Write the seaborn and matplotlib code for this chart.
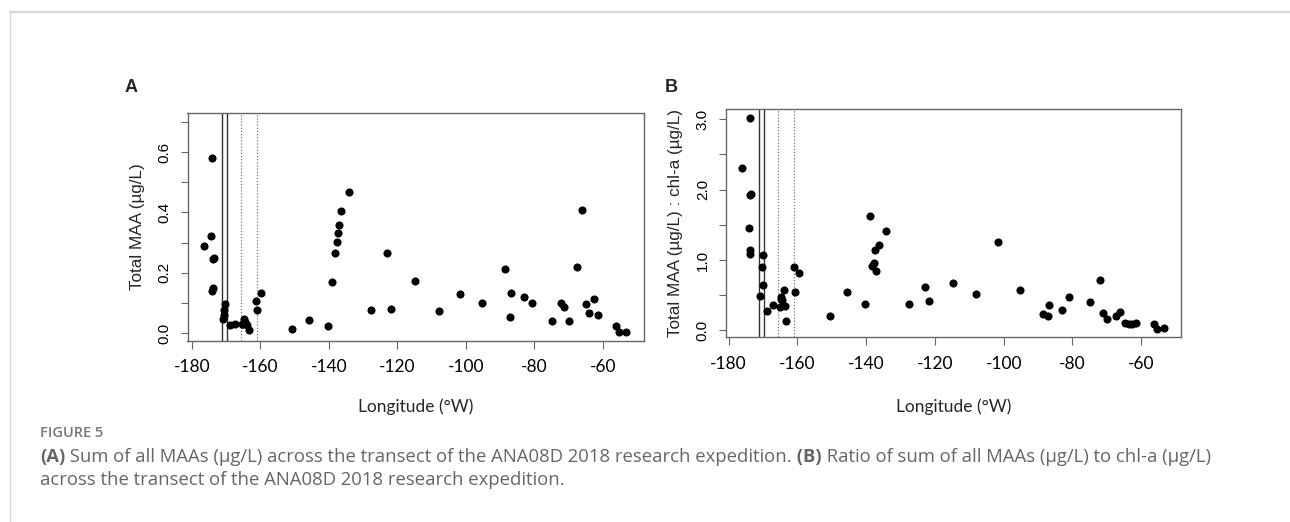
import matplotlib
matplotlib.use("Agg")
import matplotlib.pyplot as plt
from matplotlib.lines import Line2D
import seaborn as sns
import pandas as pd

# ---------------- data ----------------
lon_a = [-176.3, -174.2, -174.4, -173.9, -173.5, -173.9, -174.1, -170.4, -170.5, -170.6,
         -170.8, -168.8, -167.3, -165.3, -164.8, -164.5, -164.1, -163.8, -163.4, -165.1,
         -161.3, -161.0, -159.8, -150.7, -145.7, -140.3, -139.2, -138.2, -137.6, -137.3,
         -137.0, -136.3, -134.2, -127.8, -123.1, -121.8, -114.9, -107.9, -101.6, -95.3,
         -88.6, -87.1, -86.9, -82.9, -80.8, -74.9, -72.2, -71.3, -69.8, -67.4,
         -66.0, -64.8, -63.9, -62.6, -61.3, -56.3, -55.2, -53.3]
maa_a = [0.287, 0.580, 0.322, 0.247, 0.250, 0.148, 0.139, 0.095, 0.077, 0.061,
         0.046, 0.026, 0.031, 0.031, 0.047, 0.036, 0.031, 0.028, 0.011, 0.029,
         0.107, 0.078, 0.133, 0.015, 0.043, 0.024, 0.170, 0.267, 0.301, 0.331,
         0.358, 0.406, 0.469, 0.077, 0.266, 0.079, 0.172, 0.075, 0.130, 0.101,
         0.213, 0.055, 0.133, 0.120, 0.099, 0.040, 0.100, 0.085, 0.041, 0.218,
         0.408, 0.097, 0.068, 0.114, 0.061, 0.024, 0.003, 0.004]

lon_b = [-176.1, -173.9, -173.7, -173.4, -174.1, -173.9, -173.7, -170.1, -170.4, -170.1,
         -170.8, -168.7, -167.1, -165.1, -164.7, -164.4, -163.9, -163.6, -163.3, -164.8,
         -161.0, -160.8, -159.5, -150.6, -145.7, -140.3, -139.0, -138.3, -137.6, -137.3,
         -137.0, -136.3, -134.3, -127.6, -123.0, -121.6, -114.8, -108.0, -101.6, -95.2,
         -88.5, -87.1, -86.8, -83.1, -80.9, -74.8, -72.0, -71.1, -69.8, -67.4,
         -66.1, -64.8, -63.6, -62.8, -61.6, -56.3, -55.5, -53.5]
ratio_b = [2.31, 3.02, 1.92, 1.94, 1.45, 1.15, 1.08, 1.07, 0.90, 0.64,
           0.49, 0.27, 0.36, 0.34, 0.48, 0.43, 0.58, 0.35, 0.13, 0.44,
           0.90, 0.55, 0.81, 0.20, 0.55, 0.37, 1.62, 0.92, 0.96, 1.14,
           0.84, 1.21, 1.42, 0.37, 0.62, 0.42, 0.67, 0.52, 1.25, 0.57,
           0.24, 0.20, 0.36, 0.29, 0.47, 0.41, 0.72, 0.25, 0.16, 0.20,
           0.26, 0.11, 0.095, 0.095, 0.10, 0.095, 0.02, 0.03]

xticks = [-180, -160, -140, -120, -100, -80, -60]
xtick_labels = ["-180", "-160", "-140", "-120", "-100", "-80", "-60"]
yticks_a = [0.0, 0.1, 0.2, 0.3, 0.4, 0.5, 0.6, 0.7]
ytick_labels_a = ["0.0", "", "0.2", "", "0.4", "", "0.6", ""]
yticks_b = [0.0, 0.5, 1.0, 1.5, 2.0, 2.5, 3.0]
ytick_labels_b = ["0.0", "", "1.0", "", "2.0", "", "3.0"]
solid_lines = [-171.2, -169.6]
dotted_lines = [-165.5, -161.1]

xlabel = "Longitude (°W)"
ylabel_a = "Total MAA (µg/L)"
ylabel_b = "Total MAA (µg/L) : chl-a (µg/L)"

# ---------------- style ----------------
sns.set_style("white")
plt.rcParams['font.family'] = ['Liberation Sans', 'DejaVu Sans']
plt.rcParams['axes.unicode_minus'] = False

W, H = 1290, 522
fig = plt.figure(figsize=(W / 100, H / 100), dpi=100)
fig.patch.set_facecolor("white")


def px_box(l, t, r, b):
    return [l / W, 1 - b / H, (r - l) / W, (b - t) / H]


axA = fig.add_axes(px_box(187.5, 112.7, 643.6, 340.7))
axB = fig.add_axes(px_box(725.7, 109.3, 1180.7, 337.3))

df_a = pd.DataFrame({"lon": lon_a, "val": maa_a})
df_b = pd.DataFrame({"lon": lon_b, "val": ratio_b})

panels = [
    (axA, df_a, yticks_a, ytick_labels_a, (-181.26, -48.1), (-0.025, 0.73), ylabel_a, 16.5),
    (axB, df_b, yticks_b, ytick_labels_b, (-180.85, -48.5), (-0.097, 3.142), ylabel_b, 19.0),
]

for ax, df, yt, ytl, xl, yl, ylab, xpad in panels:
    for xv in solid_lines:
        ax.axvline(xv, color="#333333", lw=1.0, zorder=1)
    for xv in dotted_lines:
        ax.axvline(xv, color="#777777", lw=0.9, ls=(0, (1, 1.5)), zorder=1)
    sns.scatterplot(data=df, x="lon", y="val", ax=ax, color="black", s=34,
                    linewidth=0, zorder=3, legend=False)
    ax.set_xlim(*xl)
    ax.set_ylim(*yl)
    ax.set_xticks(xticks)
    ax.set_xticklabels(xtick_labels, fontfamily="Lato", fontsize=12.5)
    ax.set_yticks(yt)
    ax.set_yticklabels(ytl, fontsize=11, rotation=90, va="center")
    ax.tick_params(axis="both", which="major", direction="out", length=5.4,
                   width=0.8, color="#666666", bottom=True, left=True,
                   labelcolor="black")
    ax.tick_params(axis="x", pad=8)
    ax.tick_params(axis="y", pad=6)
    for sp in ax.spines.values():
        sp.set_visible(True)
        sp.set_color("#666666")
        sp.set_linewidth(1.0)
    ax.set_xlabel(xlabel, fontfamily="Lato", fontsize=12.5, labelpad=xpad)
    ax.set_ylabel(ylab, fontsize=12.3, labelpad=9)
    ax.grid(False)

# panel letters
fig.text(131.5 / W, 1 - 88 / H, "A", fontsize=13, fontweight="bold", ha="center", va="center")
fig.text(671.5 / W, 1 - 88 / H, "B", fontsize=13, fontweight="bold", ha="center", va="center")

# frame lines
fig.add_artist(Line2D([10 / W, 1], [1 - 11.7 / H, 1 - 11.7 / H], transform=fig.transFigure,
                      color="#d9d9d9", lw=1.6))
fig.add_artist(Line2D([10 / W, 10 / W], [0, 1 - 11.7 / H], transform=fig.transFigure,
                      color="#d4d4d4", lw=0.8))

# caption
cap_color = "#666666"
renderer = fig.canvas.get_renderer()


def draw_runs(x_px, y_px, runs, size):
    x = x_px
    for txt, weight in runs:
        t = fig.text(x / W, 1 - y_px / H, txt, fontsize=size, fontweight=weight,
                     color=cap_color, family=["Open Sans", "DejaVu Sans"],
                     ha="left", va="center")
        bb = t.get_window_extent(renderer)
        x += bb.width


fig.text(40 / W, 1 - 433 / H, "FIGURE 5", fontsize=10.5, fontweight="semibold",
         color="#777777", family=["Open Sans", "DejaVu Sans"], ha="left", va="center")
draw_runs(40, 457, [("(A)", "bold"),
                    (" Sum of all MAAs (µg/L) across the transect of the ANA08D 2018 research expedition.", "normal"),
                    (" (B)", "bold"),
                    (" Ratio of sum of all MAAs (µg/L) to chl-a (µg/L)", "normal")], 13.3)
draw_runs(40, 480, [("across the transect of the ANA08D 2018 research expedition.", "normal")], 13.3)

fig.savefig("out.png", dpi=100, facecolor="white")
